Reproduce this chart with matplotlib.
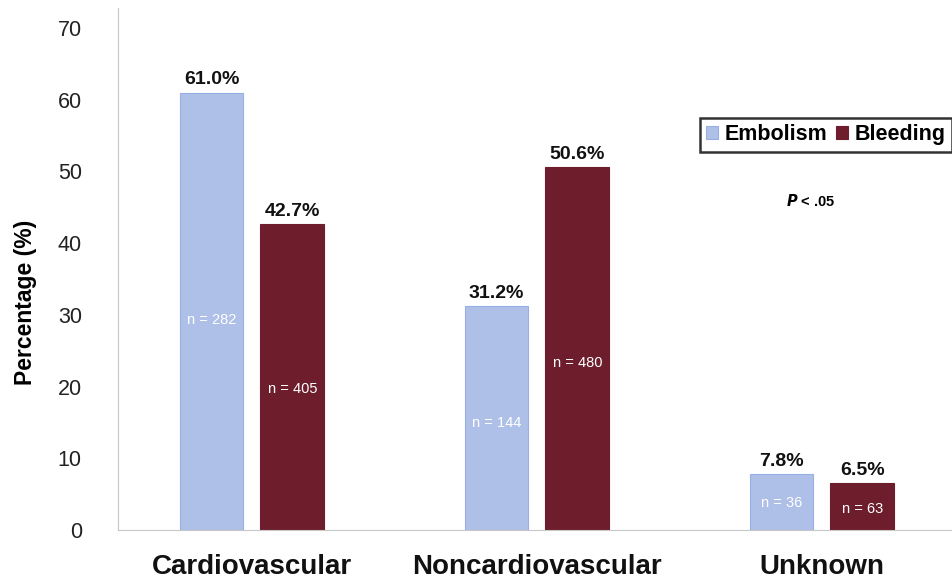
import matplotlib.pyplot as plt
import numpy as np

plt.switch_backend('agg')
plt.rcParams['font.family'] = ['Liberation Sans', 'DejaVu Sans']

categories = ["Cardiovascular", "Noncardiovascular", "Unknown"]
embolism = [61.0, 31.2, 7.8]
bleeding = [42.7, 50.6, 6.5]
embolism_n = [282, 144, 36]
bleeding_n = [405, 480, 63]
yticks = [0, 10, 20, 30, 40, 50, 60, 70]

emb_color = "#aec0e8"
emb_edge = "#9aaee6"
bld_color = "#6e1d2c"

fig = plt.figure(figsize=(9.53, 5.79), dpi=100)
ax = fig.add_axes([0.1238, 0.0846, 0.8762, 0.9016])

x = np.arange(len(categories))
w = 0.224
off = 0.142

ax.bar(x - off, embolism, w, color=emb_color, edgecolor=emb_edge, linewidth=0.8, label="Embolism")
ax.bar(x + off, bleeding, w, color=bld_color, edgecolor=bld_color, linewidth=0.8, label="Bleeding")

for xi, v, n in zip(x - off, embolism, embolism_n):
    ax.text(xi, v + 0.6, f"{v:.1f}%", ha="center", va="bottom", fontsize=14, fontweight="bold", color="#111111")
    ax.text(xi, v * 0.48, f"n = {n}", ha="center", va="center", fontsize=10.5, color="white")
for xi, v, n in zip(x + off, bleeding, bleeding_n):
    ax.text(xi, v + 0.6, f"{v:.1f}%", ha="center", va="bottom", fontsize=14, fontweight="bold", color="#111111")
    ax.text(xi, v * 0.46, f"n = {n}", ha="center", va="center", fontsize=10.5, color="white")

ax.set_xlim(-0.47, 2.46)
ax.set_ylim(0, 72.8)
ax.set_yticks(yticks)
ax.set_yticklabels([str(t) for t in yticks], fontsize=15.5, color="#222222")
ax.set_xticks(x)
ax.set_xticklabels(categories, fontsize=20, fontweight="bold", color="#111111")
ax.tick_params(axis="both", length=0)
ax.tick_params(axis="y", pad=26)
ax.tick_params(axis="x", pad=17)
ax.set_ylabel("Percentage (%)", fontsize=16.5, fontweight="bold")
ax.yaxis.set_label_coords(-0.097, 0.437)

for s in ["top", "right"]:
    ax.spines[s].set_visible(False)
ax.spines["left"].set_color("#c8c8c8")
ax.spines["bottom"].set_color("#c8c8c8")

leg = ax.legend(loc="upper left", bbox_to_anchor=(0.697, 0.79), ncol=2, frameon=True, fancybox=False,
                prop={"size": 15.5, "weight": "bold"}, handlelength=0.55, handleheight=0.55,
                handletextpad=0.3, columnspacing=0.4, borderpad=0.3, borderaxespad=0)
leg.get_frame().set_edgecolor("black")
leg.get_frame().set_linewidth(1.8)

ax.text(0.829, 0.631, r"$\bfit{P}$" + " < .05", transform=ax.transAxes, ha="center", va="center",
        fontsize=10.5, fontweight="bold")

plt.savefig("out.png", dpi=100)
